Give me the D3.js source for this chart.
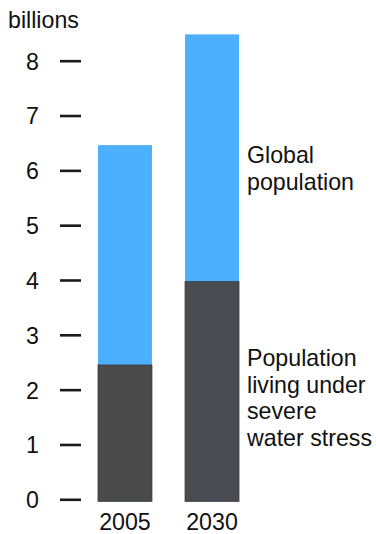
<!DOCTYPE html>
<html>
<head>
<meta charset="utf-8">
<script src="https://cdn.jsdelivr.net/npm/d3@7/dist/d3.min.js"></script>
<style>
  html, body { margin: 0; padding: 0; background: #fff; }
  svg { display: block; }
  text { font-family: "Liberation Sans", Arial, sans-serif; fill: #111; }
</style>
</head>
<body>
<div id="chart"></div>
<script>
// Population (billions): total vs. living under severe water stress
const years = ["2005", "2030"];
const globalPopulation = [6.46, 8.48];
const waterStress = [2.45, 3.97];
const yTicks = [0, 1, 2, 3, 4, 5, 6, 7, 8];
const unitLabel = "billions";
const globalLabel = ["Global", "population"];
const stressLabel = ["Population", "living under", "severe", "water stress"];

const W = 376, H = 534;
const fontSize = 23.2;
const blue = "#4cb0fe";
const dark = ["#4a4a4a", "#4a4b50"];

const svg = d3.select("#chart").append("svg")
  .attr("width", W).attr("height", H);

const y = d3.scaleLinear().domain([0, 8]).range([499.3, 60.7]);
const x = d3.scaleBand().domain(years).range([98, 239])
  .paddingInner(0.38).paddingOuter(0);

// Left axis: tick marks set apart from labels, no domain line
const axis = d3.axisLeft(y).tickValues(yTicks).tickSize(21).tickPadding(21)
  .tickFormat(d3.format("d"));
const gAxis = svg.append("g").attr("transform", "translate(81,0)").call(axis);
gAxis.select(".domain").remove();
gAxis.selectAll(".tick line").attr("stroke", "#1a1a1a").attr("stroke-width", 2.6);
gAxis.selectAll(".tick text")
  .style("font-family", '"Liberation Sans", Arial, sans-serif')
  .style("font-size", fontSize + "px")
  .attr("fill", "#111")
  .attr("dy", "0.36em");

// Unit label
svg.append("text").attr("x", 8).attr("y", 28)
  .style("font-size", fontSize + "px").text(unitLabel);

const base = y(0) + 2;

// Total population bars
svg.append("g").selectAll("rect").data(years).join("rect")
  .attr("x", d => x(d))
  .attr("width", x.bandwidth())
  .attr("y", (d, i) => y(globalPopulation[i]))
  .attr("height", (d, i) => base - y(globalPopulation[i]))
  .attr("fill", blue);

// Water-stressed share, drawn over the bottom of each bar
svg.append("g").selectAll("rect").data(years).join("rect")
  .attr("x", d => x(d))
  .attr("width", x.bandwidth())
  .attr("y", (d, i) => y(waterStress[i]))
  .attr("height", (d, i) => base - y(waterStress[i]))
  .attr("fill", (d, i) => dark[i])
  .attr("stroke", "#3a3a3c").attr("stroke-width", 0.8);

// Year labels
svg.append("g").selectAll("text").data(years).join("text")
  .attr("x", d => x(d) + x.bandwidth() / 2)
  .attr("y", 530)
  .attr("text-anchor", "middle")
  .style("font-size", fontSize + "px")
  .text(d => d);

// Series annotations to the right of the bars
function block(lines, top) {
  svg.append("g").selectAll("text").data(lines).join("text")
    .attr("x", 247)
    .attr("y", (d, i) => top + i * 26.7)
    .style("font-size", fontSize + "px")
    .text(d => d);
}
block(globalLabel, 163);
block(stressLabel, 366);
</script>
</body>
</html>
